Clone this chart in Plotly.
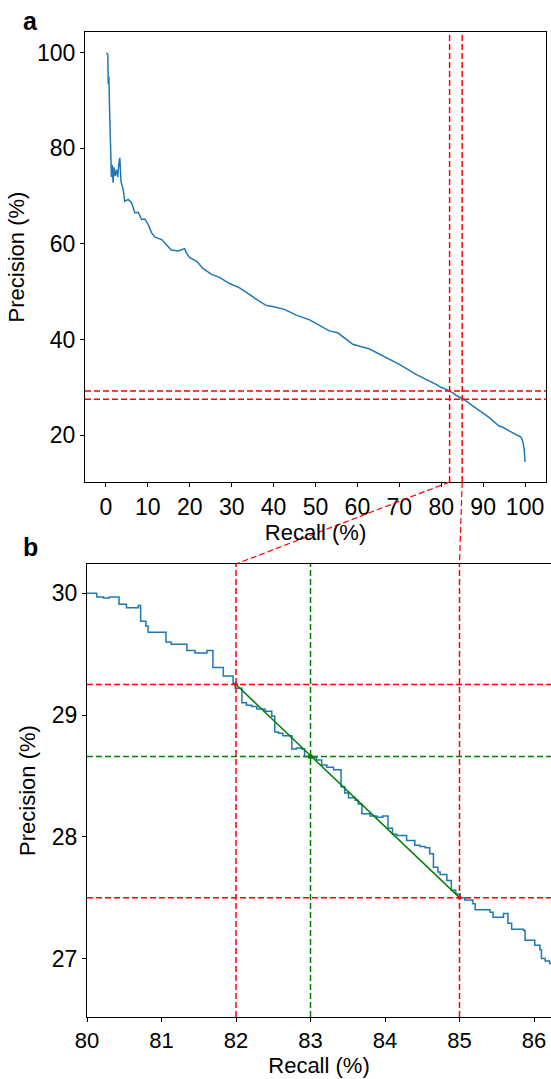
import plotly.graph_objects as go

# ---------------- data (recall %, precision %) ----------------
recall_head = [0.15, 0.45, 0.55, 0.7, 0.85, 1.0, 1.1, 1.3, 1.5, 1.7, 1.9, 2.2, 2.5, 2.8, 3.1, 3.3,
               3.6, 4.1, 4.5, 5.3, 6.1, 6.9, 7.7, 8.5, 9.3, 10.1, 10.9, 11.7, 13.3, 14.4, 15.6,
               17.2, 18.8, 19.2, 20.0, 21.6, 23.2, 25.2, 27.1, 29.5, 31.9, 34.3, 35.9, 38.3, 39.8,
               42.6, 45.4, 48.6, 50.5, 53.3, 55.3, 58.9, 62.9, 66.0, 70.0, 74.0, 77.9, 79.0]
precision_head = [100.0, 99.5, 93.5, 95.0, 88.5, 82.0, 77.5, 74.0, 76.5, 72.8, 76.0, 74.2, 75.5,
                  74.0, 77.0, 78.0, 73.0, 71.4, 68.9, 69.3, 68.6, 66.5, 66.6, 65.1, 65.2, 64.0,
                  62.3, 61.4, 60.9, 59.9, 58.7, 58.5, 59.0, 58.1, 57.1, 56.4, 54.8, 53.6, 53.0,
                  51.7, 50.8, 49.4, 48.4, 47.1, 46.9, 46.3, 45.1, 44.1, 43.2, 41.8, 41.4, 39.0,
                  38.0, 36.6, 34.8, 32.7, 31.1, 30.5]

recall_zoom = [79.9, 80.13, 80.22, 80.30, 80.43, 80.53, 80.69, 80.72, 80.79, 80.82, 81.06, 81.13,
               81.34, 81.45, 81.61, 81.69, 81.83, 81.96, 81.99, 82.08, 82.14, 82.21, 82.28, 82.39,
               82.48, 82.52, 82.57, 82.63, 82.75, 82.81, 82.88, 82.92, 82.99, 83.08, 83.15, 83.22,
               83.31, 83.41, 83.46, 83.51, 83.60, 83.64, 83.69, 83.80, 83.89, 83.97, 84.04, 84.10,
               84.16, 84.29, 84.40, 84.47, 84.54, 84.60, 84.65, 84.71, 84.74, 84.83, 84.89, 84.95,
               85.01, 85.07, 85.18, 85.21, 85.41, 85.45, 85.59, 85.65, 85.70, 85.86, 85.88, 86.01,
               86.08, 86.10, 86.15, 86.21, 86.30]
precision_zoom = [30.00, 29.97, 29.96, 29.97, 29.91, 29.88, 29.90, 29.77, 29.73, 29.68, 29.60, 29.58,
                  29.53, 29.51, 29.53, 29.39, 29.32, 29.26, 29.22, 29.10, 29.08, 29.07, 29.05, 29.03,
                  28.99, 28.86, 28.85, 28.83, 28.72, 28.73, 28.72, 28.66, 28.65, 28.63, 28.59, 28.57,
                  28.55, 28.41, 28.36, 28.32, 28.30, 28.27, 28.19, 28.17, 28.16, 28.17, 28.07, 28.02,
                  28.01, 27.97, 27.93, 27.92, 27.91, 27.86, 27.75, 27.71, 27.69, 27.64, 27.56, 27.53,
                  27.50, 27.48, 27.45, 27.40, 27.38, 27.34, 27.37, 27.29, 27.24, 27.23, 27.15, 27.11,
                  27.07, 27.00, 26.98, 26.96, 26.93]

recall_tail = [87.5, 88.5, 89.8, 91.4, 93.8, 94.6, 96.2, 97.8, 99.0, 99.2, 99.5, 99.8, 100.0]
precision_tail = [26.2, 25.5, 24.7, 23.7, 21.9, 21.7, 20.9, 20.2, 19.6, 19.3, 18.5, 17.0, 14.4]

recall = recall_head + recall_zoom + recall_tail
precision = precision_head + precision_zoom + precision_tail

# operating points
recall_pts = [82, 85]
precision_pts = [29.25, 27.5]
recall_mid = 83
precision_mid = 28.66

top_xticks = list(range(0, 101, 10))
top_yticks = [20, 40, 60, 80, 100]
bot_xticks = [80, 81, 82, 83, 84, 85, 86]
bot_yticks = [27, 28, 29, 30]

# ---------------- layout geometry ----------------
OFF = 0  # body margin removed by post_script below
W, H = 551, 1079
L, R, T, B = 85, 0, 32, 62
PW, PH = W - L - R, H - T - B


def fx(px):  # page pixel -> paper x
    return (px - OFF - L) / PW


def fy(py):  # page pixel -> paper y
    return (H - B - (py - OFF)) / PH


top_xdom = [fx(85), fx(546)]
top_ydom = [fy(482), fy(32)]
bot_xdom = [fx(87), fx(551)]
bot_ydom = [fy(1017), fy(564)]
top_xrange = [-5, 105]
top_yrange = [10.2, 104.3]
bot_xrange = [80, 86.228]
bot_yrange = [26.52, 30.24]


def map_x(v, dom, rng):
    return dom[0] + (v - rng[0]) / (rng[1] - rng[0]) * (dom[1] - dom[0])


FONT = "Liberation Sans"
BLUE = "#1f77b4"
RED = "#ff0000"
GREEN = "#008000"
DASH = "6px,3px"

fig = go.Figure()
fig.add_trace(go.Scatter(x=recall, y=precision, mode="lines", line=dict(color=BLUE, width=1.5),
                         xaxis="x", yaxis="y", showlegend=False, hoverinfo="skip"))
fig.add_trace(go.Scatter(x=recall, y=precision, mode="lines", line=dict(color=BLUE, width=1.5, shape="hv"),
                         xaxis="x2", yaxis="y2", showlegend=False, hoverinfo="skip"))
fig.add_trace(go.Scatter(x=[recall_pts[0], recall_pts[1]], y=[precision_pts[0], precision_pts[1]],
                         mode="lines", line=dict(color=GREEN, width=1.5),
                         xaxis="x2", yaxis="y2", showlegend=False, hoverinfo="skip"))
fig.add_trace(go.Scatter(x=recall_pts, y=precision_pts, mode="markers",
                         marker=dict(color=RED, size=4), xaxis="x2", yaxis="y2", showlegend=False))
fig.add_trace(go.Scatter(x=[recall_mid], y=[precision_mid], mode="markers",
                         marker=dict(color=GREEN, size=5), xaxis="x2", yaxis="y2", showlegend=False))

shapes = []
for r in recall_pts:
    shapes.append(dict(type="line", xref="x", yref="y domain", x0=r, x1=r, y0=0, y1=1,
                       line=dict(color=RED, width=1.5, dash=DASH)))
    shapes.append(dict(type="line", xref="x2", yref="y2 domain", x0=r, x1=r, y0=0, y1=1,
                       line=dict(color=RED, width=1.5, dash=DASH)))
for p in precision_pts:
    shapes.append(dict(type="line", xref="x domain", yref="y", x0=0, x1=1, y0=p, y1=p,
                       line=dict(color=RED, width=1.5, dash=DASH)))
    shapes.append(dict(type="line", xref="x2 domain", yref="y2", x0=0, x1=1, y0=p, y1=p,
                       line=dict(color=RED, width=1.5, dash=DASH)))
shapes.append(dict(type="line", xref="x2", yref="y2 domain", x0=recall_mid, x1=recall_mid, y0=0, y1=1,
                   line=dict(color=GREEN, width=1.5, dash=DASH)))
shapes.append(dict(type="line", xref="x2 domain", yref="y2", x0=0, x1=1, y0=precision_mid, y1=precision_mid,
                   line=dict(color=GREEN, width=1.5, dash=DASH)))
# connectors between panels
for r in recall_pts:
    shapes.append(dict(type="line", xref="paper", yref="paper",
                       x0=map_x(r, top_xdom, top_xrange), y0=top_ydom[0],
                       x1=map_x(r, bot_xdom, bot_xrange), y1=bot_ydom[1],
                       line=dict(color=RED, width=1.2, dash=DASH)))

axis_common = dict(showline=True, linecolor="black", linewidth=1, ticks="outside", ticklen=4,
                   tickwidth=1, tickcolor="black", showgrid=False, zeroline=False,
                   title_font=dict(family=FONT, size=22, color="black"))
tick23 = dict(family=FONT, size=23, color="black")
tick22 = dict(family=FONT, size=22, color="black")

fig.update_layout(
    width=W, height=H, margin=dict(l=L, r=R, t=T, b=B, pad=0),
    plot_bgcolor="white", paper_bgcolor="white",
    xaxis=dict(domain=top_xdom, range=top_xrange, tickvals=top_xticks, mirror=True, anchor="y",
               tickfont=tick23, title=dict(text="Recall (%)", standoff=4), **axis_common),
    yaxis=dict(domain=top_ydom, range=top_yrange, tickvals=top_yticks, mirror=True, anchor="x",
               tickfont=tick23, title=dict(text="Precision (%)", standoff=6), **axis_common),
    xaxis2=dict(domain=bot_xdom, range=bot_xrange, tickvals=bot_xticks, mirror=True, anchor="y2",
                tickfont=tick22, title=dict(text="Recall (%)", standoff=4), **axis_common),
    yaxis2=dict(domain=bot_ydom, range=bot_yrange, tickvals=bot_yticks, mirror=False, anchor="x2",
                tickfont=tick23, title=dict(text="Precision (%)", standoff=10), **axis_common),
    shapes=shapes,
    annotations=[
        dict(text="<b>a</b>", xref="paper", yref="paper", x=fx(21), y=fy(5), xanchor="left", yanchor="top",
             showarrow=False, font=dict(family=FONT, size=25, color="black")),
        dict(text="<b>b</b>", xref="paper", yref="paper", x=fx(21), y=fy(531), xanchor="left", yanchor="top",
             showarrow=False, font=dict(family=FONT, size=25, color="black")),
    ],
)

fig.write_html("out.html", config={"displayModeBar": False},
               post_script="document.body.style.margin='0px';document.documentElement.style.overflow='hidden';")
